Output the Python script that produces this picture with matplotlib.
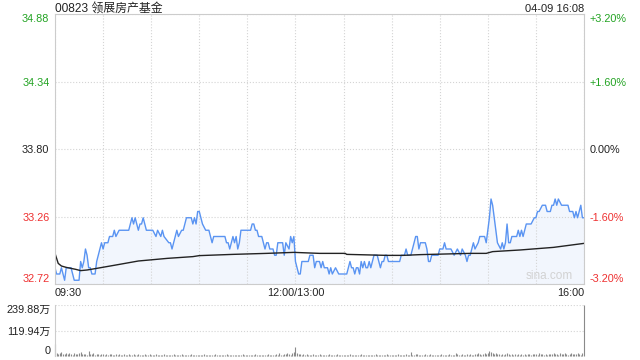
import numpy as np
import matplotlib
matplotlib.use('Agg')
import matplotlib.pyplot as plt

plt.rcParams['font.family'] = ['Liberation Sans', 'Noto Sans CJK SC', 'DejaVu Sans']

title = '00823 领展房产基金'
stamp = '04-09 16:08'
prev_close = 33.80
price_ticks = [32.72, 33.26, 33.80, 34.34, 34.88]
pct_labels = ['-3.20%', '-1.60%', '0.00%', '+1.60%', '+3.20%']
vol_ticks = [0, 119.94, 239.88]
vol_labels = ['0', '119.94万', '239.88万']
time_ticks = [0, 150, 330]
time_labels = ['09:30', '12:00/13:00', '16:00']

# minutes since open (trading time), last price
price_min = [0, 1, 3, 4, 5, 6, 7, 10, 12, 15, 16, 17, 18, 19, 20, 21, 22, 23, 25, 26,
             27, 28, 29, 30, 31, 33, 34, 36, 37, 38, 40, 46, 47, 48, 49, 50, 51, 52, 53, 54,
             55, 57, 61, 63, 64, 66, 67, 68, 71, 72, 73, 74, 76, 77, 79, 80, 82, 85, 86, 87,
             88, 89, 90, 91, 92, 94, 96, 98, 99, 104, 106, 107, 108, 109, 110, 111, 112, 113, 114, 115,
             116, 122, 123, 124, 125, 126, 127, 129, 130, 131, 132, 133, 134, 136, 137, 138, 139, 142, 143, 144,
             146, 147, 148, 149, 150, 151, 152, 153, 154, 158, 159, 161, 162, 163, 165,
             166, 167, 168, 170, 171, 172, 173, 175, 177, 182, 184, 185, 186, 187, 188, 189, 190, 191, 192, 193,
             194, 195, 196, 197, 199, 201, 203, 204, 205, 206, 207, 208, 215, 216, 218, 219, 220, 222, 225, 226,
             227, 228, 231, 232, 233, 234, 235, 239, 240, 242, 243, 244, 247, 249, 251, 253, 254, 256, 257, 258,
             259, 260, 261, 262, 264, 265, 268, 269, 270, 271, 272, 273, 274, 275, 276, 278, 279, 280, 281, 282,
             283, 284, 285, 288, 289, 290, 291, 292, 293, 294, 297, 299, 300, 301, 302, 304, 306, 307, 309, 310,
             311, 312, 313, 314, 316, 320, 321, 323, 324, 325, 326, 327, 328, 329, 330]
price = [32.85, 32.80, 32.80, 32.85, 32.80, 32.75, 32.85, 32.85, 32.75, 32.75, 32.90, 32.85, 32.90, 33.00, 32.95, 32.85, 32.85, 32.80, 32.80, 32.90,
         32.95, 33.00, 33.05, 33.00, 33.05, 33.05, 33.10, 33.10, 33.15, 33.10, 33.15, 33.15, 33.20, 33.25, 33.20, 33.25, 33.20, 33.15, 33.20, 33.20,
         33.25, 33.15, 33.15, 33.10, 33.15, 33.10, 33.15, 33.10, 33.05, 33.05, 33.00, 33.05, 33.15, 33.10, 33.15, 33.15, 33.25, 33.25, 33.20, 33.25,
         33.20, 33.30, 33.30, 33.25, 33.20, 33.15, 33.15, 33.05, 33.10, 33.10, 33.10, 33.05, 33.05, 33.00, 33.05, 33.10, 33.05, 33.10, 33.00, 33.05,
         33.15, 33.15, 33.20, 33.20, 33.15, 33.15, 33.10, 33.10, 33.05, 33.00, 33.05, 33.05, 33.00, 33.00, 32.95, 32.95, 33.05, 33.05, 32.95, 33.05,
         33.00, 33.10, 33.05, 33.10, 32.90, 32.85, 32.80, 32.80, 32.90, 32.90, 32.95, 32.95, 32.85, 32.90, 32.90,
         32.85, 32.90, 32.85, 32.85, 32.80, 32.85, 32.80, 32.85, 32.80, 32.80, 32.90, 32.85, 32.85, 32.80, 32.85, 32.85, 32.80, 32.90, 32.85, 32.90,
         32.85, 32.85, 32.90, 32.85, 32.95, 32.95, 32.85, 32.90, 32.90, 32.95, 32.95, 32.90, 32.90, 32.95, 32.95, 33.00, 32.95, 32.95, 33.10, 33.10,
         33.00, 33.05, 33.05, 33.00, 32.90, 32.90, 32.95, 32.95, 33.00, 33.00, 33.05, 33.00, 33.00, 32.95, 33.00, 32.95, 33.00, 32.95, 32.90, 32.95,
         32.95, 33.00, 33.05, 33.00, 33.05, 33.10, 33.10, 33.05, 33.15, 33.25, 33.40, 33.35, 33.25, 33.15, 33.05, 33.00, 33.05, 33.00, 33.05, 33.20,
         33.05, 33.05, 33.10, 33.10, 33.15, 33.10, 33.15, 33.10, 33.15, 33.20, 33.20, 33.25, 33.25, 33.30, 33.30, 33.35, 33.35, 33.30, 33.30, 33.35,
         33.35, 33.40, 33.35, 33.40, 33.35, 33.35, 33.30, 33.30, 33.25, 33.30, 33.25, 33.30, 33.35, 33.25, 33.25]

# average price line
avg_min = [0, 1, 2, 4, 7, 13, 16, 20, 26, 38, 52, 70, 86, 90, 111, 132, 149, 165,
           181, 182, 207, 217, 228, 259, 269, 273, 290, 311, 330]
avg_price = [32.965, 32.925, 32.885, 32.864, 32.853, 32.837, 32.827, 32.832, 32.845, 32.872,
             32.904, 32.925, 32.939, 32.947, 32.957, 32.965, 32.973, 32.965,
             32.965, 32.957, 32.949, 32.949, 32.955, 32.965, 32.965, 32.979, 32.992, 33.013, 33.045]

# volume per minute, in 万
volume = [55, 14, 10, 12, 18, 9, 11, 16, 8, 13, 9, 7, 15, 10, 8, 12, 17, 9, 8, 11, 7, 25, 9, 8, 12, 7, 9, 10, 6, 8,
          9, 7, 11, 6, 8, 10, 5, 7, 9, 6, 8, 5, 7, 9, 6, 5, 8, 6, 7, 10, 5, 6, 8, 5, 7, 6, 9, 5, 6, 8,
          5, 7, 6, 8, 5, 6, 7, 5, 9, 6, 5, 7, 6, 5, 8, 6, 7, 5, 6, 9, 5, 6, 7, 5, 6, 8, 5, 7, 6, 5,
          7, 5, 6, 8, 5, 6, 5, 7, 6, 5, 8, 6, 5, 7, 5, 6, 5, 8, 6, 5, 7, 5, 6, 5, 7, 6, 5, 8, 5, 6,
          6, 5, 7, 5, 6, 8, 5, 6, 5, 7, 6, 5, 6, 8, 5, 7, 6, 5, 9, 6, 12, 7, 6, 10, 8, 14, 9, 7, 15, 20,
          40, 12, 8, 10, 7, 9, 6, 8, 7, 5, 6, 8, 5, 7, 6, 9, 5, 6, 7, 5, 6, 8, 5, 7, 6, 5, 8, 6, 7, 5,
          6, 5, 7, 6, 8, 5, 6, 7, 5, 6, 5, 8, 6, 7, 5, 6, 5, 7, 6, 5, 8, 6, 5, 7, 6, 5, 6, 8, 5, 6,
          7, 5, 6, 5, 8, 6, 5, 7, 6, 9, 5, 6, 18, 7, 6, 10, 8, 6, 5, 7, 6, 9, 5, 6, 8, 7, 5, 6, 7, 5,
          6, 8, 5, 7, 6, 5, 9, 6, 7, 5, 12, 8, 6, 7, 10, 6, 5, 8, 6, 9, 7, 6, 10, 8, 12, 9, 7, 11, 13, 8,
          15, 22, 18, 14, 10, 12, 8, 9, 7, 11, 6, 8, 14, 9, 7, 8, 6, 10, 7, 9, 6, 8, 7, 10, 6, 9, 8, 7, 11, 8,
          9, 7, 12, 8, 10, 6, 9, 7, 8, 11, 9, 13, 8, 10, 7, 12, 9, 8, 14, 10, 7, 9, 16, 11, 8, 10, 13, 9, 7, 12,
          239.88]

GREEN = '#22a322'
RED = '#ee3030'
GRID = '#d4d4d4'
EDGE = '#cccccc'
FS = 7.8

fig = plt.figure(figsize=(6.4, 3.6), dpi=100)

# price panel
ax = fig.add_axes([55 / 640, 1 - 284 / 360, 529 / 640, 270 / 360])
ax.set_xlim(0, 330)
ax.set_ylim(price_ticks[0], price_ticks[-1])
ax.fill_between(price_min, price, price_ticks[0], color='#edf3fd', alpha=0.7, lw=0)
ax.plot(price_min, price, color='#5a94f2', lw=1)
ax.plot(avg_min, avg_price, color='#222222', lw=1)

ax.set_xticks(time_ticks, labels=time_labels)
ax.set_xticks(np.arange(30, 330, 30), minor=True)
ax.set_yticks(price_ticks, labels=[f'{p:.2f}' for p in price_ticks])
ax.grid(which='both', axis='x', ls=':', color=GRID, lw=0.8)
ax.grid(axis='y', ls=':', color=GRID, lw=0.8)
ax.tick_params(which='both', length=0, labelsize=FS, colors='#222222')
ax.tick_params(axis='x', pad=3)
ax.tick_params(axis='y', pad=4)
for sp in ax.spines.values():
    sp.set_color(EDGE)
    sp.set_linewidth(0.8)

xl = ax.get_xticklabels()
xl[0].set_ha('left')
xl[2].set_ha('right')

def color_price_labels(labels):
    for p, lab in zip(price_ticks, labels):
        if p > prev_close + 1e-9:
            lab.set_color(GREEN)
        elif p < prev_close - 1e-9:
            lab.set_color(RED)
        else:
            lab.set_color('#222222')
    labels[0].set_va('bottom')
    labels[-1].set_va('top')

color_price_labels(ax.get_yticklabels())

ax2 = ax.twinx()
ax2.set_ylim(ax.get_ylim())
ax2.set_yticks(price_ticks, labels=pct_labels)
ax2.tick_params(length=0, labelsize=FS, pad=4)
for sp in ax2.spines.values():
    sp.set_visible(False)
color_price_labels(ax2.get_yticklabels())

ax.text(0.979, 0.008, 'sina.com', transform=ax.transAxes, ha='right', va='bottom',
        color='#d2d2d2', fontsize=8.5)

# volume panel
axv = fig.add_axes([55 / 640, 1 - 356 / 360, 529 / 640, 51 / 360])
axv.set_xlim(0, 330)
axv.set_ylim(0, vol_ticks[-1])
axv.vlines(np.arange(len(volume)), 0, volume, color='#8a8a8a', lw=0.8, clip_on=False)
axv.set_xticks([])
axv.set_yticks(vol_ticks, labels=vol_labels)
axv.grid(axis='y', ls=':', color=GRID, lw=0.8)
axv.tick_params(length=0, labelsize=FS, pad=3, colors='#222222')
for name, sp in axv.spines.items():
    sp.set_visible(name == 'left')
axv.spines['left'].set_color(EDGE)
vl = axv.get_yticklabels()
vl[0].set_va('bottom')
vl[-1].set_va('top')

fig.text(55 / 640, 1 - 12.5 / 360, title, ha='left', va='baseline', fontsize=8.6, color='#222222')
fig.text(584 / 640, 1 - 12.5 / 360, stamp, ha='right', va='baseline', fontsize=8, color='#222222')

fig.savefig('out.png', dpi=100)
